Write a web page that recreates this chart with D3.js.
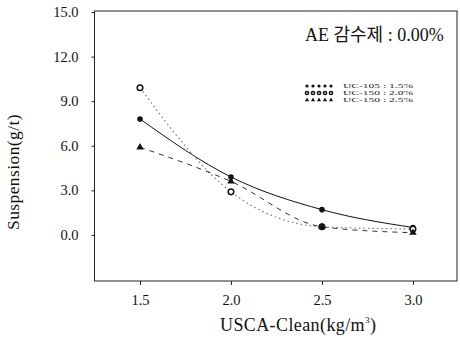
<!DOCTYPE html>
<html><head><meta charset="utf-8">
<script src="https://cdn.jsdelivr.net/npm/d3@7"></script>
<style>body{margin:0;background:#fff}svg{display:block}</style>
</head><body>
<svg id="c" width="460" height="347"></svg>
<script>
const xValues = [1.5, 2.0, 2.5, 3.0];
const xTicks = [1.5, 2.0, 2.5, 3.0];
const yTicks = [0, 3, 6, 9, 12, 15];
const seriesNames = ["UC-105 : 1.5%", "UC-150 : 2.0%", "UC-150 : 2.5%"];
const s1 = [7.8, 3.9, 1.7, 0.5];
const s2 = [9.9, 2.9, 0.55, 0.4];
const s3 = [5.9, 3.6, 0.55, 0.15];
const title = "AE 감수제 : 0.00%";
const xTitle = "USCA-Clean(kg/m";
const yTitle = "Suspension(g/t)";

const svg = d3.select("#c");
const L = 94.5, R = 457, T = 11, B = 281;
const x = d3.scaleLinear().domain([1.25, 3.242]).range([L, R]);
const y = d3.scaleLinear().domain([-3.1, 15.07]).range([B, T]);
const serif = "'Liberation Serif','DejaVu Serif',serif";

svg.append("rect").attr("x", L).attr("y", T).attr("width", R - L).attr("height", B - T)
  .attr("fill", "none").attr("stroke", "#222").attr("stroke-width", 1);

const yAxis = svg.append("g").attr("transform", `translate(${L},0)`)
  .call(d3.axisLeft(y).tickValues(yTicks).tickFormat(d3.format(".1f")).tickSize(3).tickPadding(13));
const xAxis = svg.append("g").attr("transform", `translate(0,${B})`)
  .call(d3.axisBottom(x).tickValues(xTicks).tickFormat(d3.format(".1f")).tickSize(4).tickPadding(10));
[yAxis, xAxis].forEach(a => {
  a.select(".domain").remove();
  a.selectAll("line").attr("stroke", "#222");
  a.selectAll("text").attr("font-family", serif).attr("font-size", 14.5).attr("fill", "#111");
});

const styles = [
  {data: s1, dash: null, color: "#111", width: 1, marker: "circleFill"},
  {data: s2, dash: "1.5,3", color: "#777", width: 1.2, marker: "circleOpen"},
  {data: s3, dash: "5,5", color: "#333", width: 1, marker: "triangle"}
];
const line = d3.line().x((d, i) => x(xValues[i])).y(d => y(d)).curve(d3.curveMonotoneX);

function marker(g, type, cx, cy, r) {
  if (type === "triangle") {
    g.append("path").attr("d", d3.symbol(d3.symbolTriangle, r * r * 3)())
      .attr("transform", `translate(${cx},${cy})`).attr("fill", "#111");
  } else if (type === "circleOpen") {
    g.append("circle").attr("cx", cx).attr("cy", cy).attr("r", r)
      .attr("fill", "#fff").attr("stroke", "#111").attr("stroke-width", 1.5);
  } else {
    g.append("circle").attr("cx", cx).attr("cy", cy).attr("r", r).attr("fill", "#111");
  }
}

styles.forEach(s => {
  svg.append("path").datum(s.data).attr("d", line).attr("fill", "none")
    .attr("stroke", s.color).attr("stroke-width", s.width)
    .attr("stroke-dasharray", s.dash);
  const g = svg.append("g");
  s.data.forEach((v, i) => marker(g, s.marker, x(xValues[i]), y(v), 2.8));
});

// legend
const lg = svg.append("g");
seriesNames.forEach((n, k) => {
  const yy = 86 + k * 7;
  for (let j = 0; j < 5; j++) marker(lg, styles[k].marker, 307 + j * 6, yy, 1.6);
  lg.append("text").attr("x", 343).attr("y", yy + 2.3).attr("font-family", serif)
    .attr("font-size", 6.6).attr("textLength", 70).attr("lengthAdjust", "spacingAndGlyphs")
    .attr("fill", "#222").text(n);
});

svg.append("text").attr("x", 305).attr("y", 41).attr("font-family", serif + ",'Noto Sans CJK KR'")
  .attr("font-size", 18).attr("fill", "#111").text(title);

const xt = svg.append("text").attr("x", 220).attr("y", 331).attr("font-family", serif)
  .attr("font-size", 18).attr("letter-spacing", 0.4).attr("fill", "#111");
xt.append("tspan").text(xTitle);
xt.append("tspan").attr("font-size", 9).attr("dy", -8).text("3");
xt.append("tspan").attr("dy", 8).text(")");

svg.append("text").attr("transform", "translate(19,172) rotate(-90)").attr("text-anchor", "middle")
  .attr("font-family", serif).attr("font-size", 17.5).attr("letter-spacing", 0.4)
  .attr("fill", "#111").text(yTitle);
</script>
</body></html>
